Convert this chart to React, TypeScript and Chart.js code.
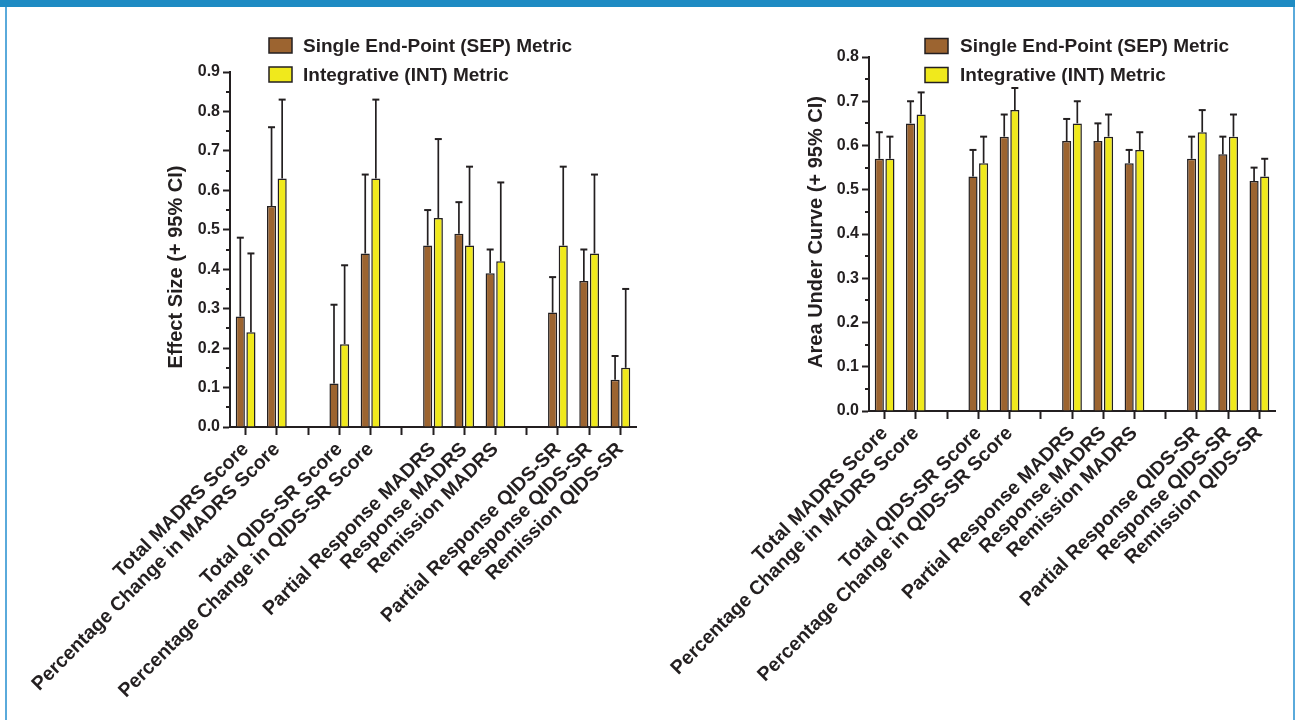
import React, { useEffect, useRef } from "react";
import { Chart, registerables } from "chart.js";

Chart.register(...registerables);

// ---------- data ----------
const categories = [
  "Total MADRS Score",
  "Percentage Change in MADRS Score",
  "",
  "Total QIDS-SR Score",
  "Percentage Change in QIDS-SR Score",
  "",
  "Partial Response MADRS",
  "Response MADRS",
  "Remission MADRS",
  "",
  "Partial Response QIDS-SR",
  "Response QIDS-SR",
  "Remission QIDS-SR",
];
const seriesNames = ["Single End-Point (SEP) Metric", "Integrative (INT) Metric"];

const effectSEP = [0.28, 0.56, null, 0.11, 0.44, null, 0.46, 0.49, 0.39, null, 0.29, 0.37, 0.12];
const effectSEPUpper = [0.48, 0.76, null, 0.31, 0.64, null, 0.55, 0.57, 0.45, null, 0.38, 0.45, 0.18];
const effectINT = [0.24, 0.63, null, 0.21, 0.63, null, 0.53, 0.46, 0.42, null, 0.46, 0.44, 0.15];
const effectINTUpper = [0.44, 0.83, null, 0.41, 0.83, null, 0.73, 0.66, 0.62, null, 0.66, 0.64, 0.35];

const aucSEP = [0.57, 0.65, null, 0.53, 0.62, null, 0.61, 0.61, 0.56, null, 0.57, 0.58, 0.52];
const aucSEPUpper = [0.63, 0.70, null, 0.59, 0.67, null, 0.66, 0.65, 0.59, null, 0.62, 0.62, 0.55];
const aucINT = [0.57, 0.67, null, 0.56, 0.68, null, 0.65, 0.62, 0.59, null, 0.63, 0.62, 0.53];
const aucINTUpper = [0.62, 0.72, null, 0.62, 0.73, null, 0.70, 0.67, 0.63, null, 0.68, 0.67, 0.57];

const effectAxis = { title: "Effect Size (+ 95% CI)", min: 0, max: 0.9, step: 0.1 };
const aucAxis = { title: "Area Under Curve (+ 95% CI)", min: 0, max: 0.8, step: 0.1 };

// ---------- style ----------
const INK = "#231f20";
const BROWN = "#9c6430";
const YELLOW = "#f0e91c";
const FONT = "'Liberation Sans', Arial, Helvetica, sans-serif";
const W = 1295;
const H = 720;

type Layout = {
  axisLeft: number;
  plotRight: number;
  plotTop: number;
  plotBottom: number;
  legendBoxX: number;
  legendTextX: number;
  legendRows: number[];
  titleX: number;
  titleY: number;
};

function BarPanel(props: {
  sep: (number | null)[];
  sepUpper: (number | null)[];
  int: (number | null)[];
  intUpper: (number | null)[];
  axis: { title: string; min: number; max: number; step: number };
  layout: Layout;
}) {
  const ref = useRef<HTMLCanvasElement | null>(null);
  useEffect(() => {
    const canvas = ref.current;
    if (!canvas) return;
    const L = props.layout;
    const uppers = [props.sepUpper, props.intUpper];

    const decor = {
      id: "decor",
      afterDatasetsDraw(chart: any) {
        const ctx = chart.ctx;
        const y = chart.scales.y;
        const area = chart.chartArea;
        ctx.save();
        // minor ticks
        ctx.strokeStyle = INK;
        ctx.lineWidth = 2;
        for (let v = props.axis.min + props.axis.step / 2; v < props.axis.max; v += props.axis.step) {
          const py = Math.round(y.getPixelForValue(v));
          ctx.beginPath();
          ctx.moveTo(area.left - 4, py);
          ctx.lineTo(area.left, py);
          ctx.stroke();
        }
        // error bars (upper)
        chart.data.datasets.forEach((ds: any, di: number) => {
          const meta = chart.getDatasetMeta(di);
          meta.data.forEach((el: any, i: number) => {
            const up = uppers[di][i];
            if (ds.data[i] == null || up == null) return;
            const x = el.x;
            const yTop = el.y;
            const yUp = y.getPixelForValue(up);
            ctx.lineWidth = 1.7;
            ctx.beginPath();
            ctx.moveTo(x, yTop);
            ctx.lineTo(x, yUp);
            ctx.stroke();
            ctx.lineWidth = 2;
            ctx.beginPath();
            ctx.moveTo(x - 3.5, yUp);
            ctx.lineTo(x + 3.5, yUp);
            ctx.stroke();
          });
        });
        // legend
        ctx.font = `bold 19px ${FONT}`;
        ctx.textBaseline = "middle";
        ctx.textAlign = "left";
        chart.data.datasets.forEach((ds: any, di: number) => {
          const cy = L.legendRows[di];
          ctx.fillStyle = ds.backgroundColor;
          ctx.fillRect(L.legendBoxX, cy - 7.5, 23, 15);
          ctx.strokeStyle = INK;
          ctx.lineWidth = 1.5;
          ctx.strokeRect(L.legendBoxX, cy - 7.5, 23, 15);
          ctx.fillStyle = INK;
          ctx.fillText(ds.label, L.legendTextX, cy + 1);
        });
        // y title
        ctx.save();
        ctx.translate(L.titleX, L.titleY);
        ctx.rotate(-Math.PI / 2);
        ctx.font = `bold 20px ${FONT}`;
        ctx.textAlign = "center";
        ctx.textBaseline = "middle";
        ctx.fillStyle = INK;
        ctx.fillText(props.axis.title, 0, 0);
        ctx.restore();
        ctx.restore();
      },
    };

    const chart = new Chart(canvas, {
      type: "bar",
      data: {
        labels: categories,
        datasets: [
          {
            label: seriesNames[0],
            data: props.sep as any,
            backgroundColor: BROWN,
            borderColor: INK,
            borderWidth: 1.5,
            categoryPercentage: 0.68,
            barPercentage: 0.86,
          },
          {
            label: seriesNames[1],
            data: props.int as any,
            backgroundColor: YELLOW,
            borderColor: INK,
            borderWidth: 1.5,
            categoryPercentage: 0.68,
            barPercentage: 0.86,
          },
        ],
      },
      options: {
        responsive: false,
        animation: false,
        events: [],
        layout: {
          padding: { left: 0, top: L.plotTop, right: W - L.plotRight, bottom: 0 },
        },
        plugins: {
          legend: { display: false },
          tooltip: { enabled: false },
          title: { display: false },
        },
        scales: {
          x: {
            type: "category",
            offset: true,
            grid: {
              display: true,
              offset: false,
              drawOnChartArea: false,
              drawTicks: true,
              tickLength: 8,
              tickWidth: 2,
              tickColor: INK,
            },
            border: { display: true, width: 2, color: INK },
            ticks: {
              autoSkip: false,
              maxRotation: 45,
              minRotation: 45,
              padding: 3,
              color: INK,
              font: { family: FONT, size: 19.5, weight: "bold" },
            },
            afterFit(scale: any) {
              scale.height = H - L.plotBottom;
            },
          },
          y: {
            type: "linear",
            min: props.axis.min,
            max: props.axis.max,
            grid: {
              display: true,
              drawOnChartArea: false,
              drawTicks: true,
              tickLength: 7,
              tickWidth: 2,
              tickColor: INK,
            },
            border: { display: true, width: 2, color: INK },
            ticks: {
              stepSize: props.axis.step,
              padding: 3,
              color: INK,
              font: { family: FONT, size: 16, weight: "bold" },
              callback: (v: any) => Number(v).toFixed(1),
            },
            afterFit(scale: any) {
              scale.width = L.axisLeft;
            },
          },
        },
      } as any,
      plugins: [decor],
    });
    return () => chart.destroy();
  }, []);
  return (
    <canvas
      ref={ref}
      width={W}
      height={H}
      style={{ position: "absolute", left: 0, top: 0, width: W, height: H }}
    />
  );
}

export default function App() {
  useEffect(() => {
    document.body.style.margin = "0";
  }, []);
  return (
    <div
      style={{
        position: "absolute",
        left: 0,
        top: 0,
        width: W,
        height: H,
        background: "#ffffff",
        overflow: "hidden",
      }}
    >
      <div style={{ position: "absolute", left: 0, top: 0, width: W, height: 7, background: "#1e8bc3" }} />
      <div style={{ position: "absolute", left: 5, top: 7, width: 2, height: H - 7, background: "#5aaadb" }} />
      <div style={{ position: "absolute", left: W - 2, top: 7, width: 2, height: H - 7, background: "#5aaadb" }} />
      <BarPanel
        sep={effectSEP}
        sepUpper={effectSEPUpper}
        int={effectINT}
        intUpper={effectINTUpper}
        axis={effectAxis}
        layout={{
          axisLeft: 230,
          plotRight: 636,
          plotTop: 72,
          plotBottom: 427,
          legendBoxX: 269,
          legendTextX: 303,
          legendRows: [45.5, 74.5],
          titleX: 176,
          titleY: 267,
        }}
      />
      <BarPanel
        sep={aucSEP}
        sepUpper={aucSEPUpper}
        int={aucINT}
        intUpper={aucINTUpper}
        axis={aucAxis}
        layout={{
          axisLeft: 869,
          plotRight: 1275,
          plotTop: 57,
          plotBottom: 411,
          legendBoxX: 925,
          legendTextX: 960,
          legendRows: [46, 75],
          titleX: 816,
          titleY: 232,
        }}
      />
    </div>
  );
}
